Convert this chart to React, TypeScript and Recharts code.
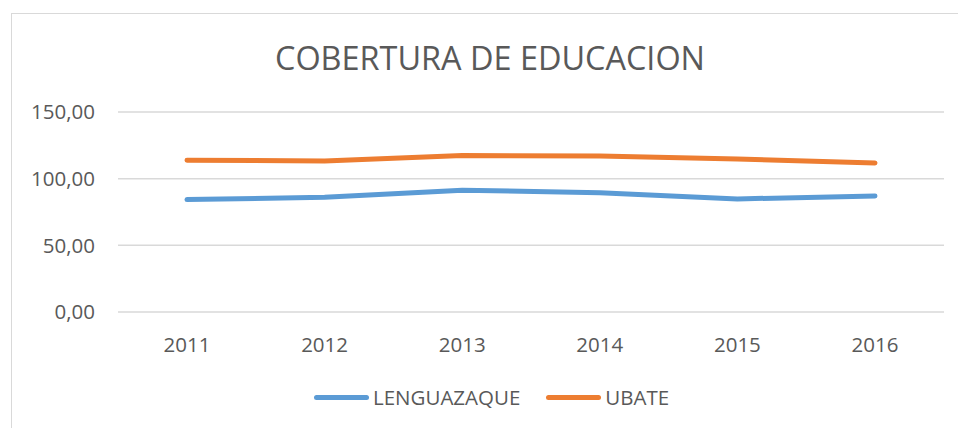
import React from "react";
import { LineChart, Line, XAxis, YAxis, CartesianGrid } from "recharts";

const years = ["2011", "2012", "2013", "2014", "2015", "2016"];
const lenguazaque = [84.3, 86.0, 91.3, 89.5, 84.8, 87.0];
const ubate = [113.8, 113.3, 117.3, 117.0, 114.8, 111.8];
const yTicks = [0, 50, 100, 150];
const title = "COBERTURA DE EDUCACION";
const seriesNames = ["LENGUAZAQUE", "UBATE"];
const seriesColors = ["#5B9BD5", "#ED7D31"];

const data = years.map((y, i) => ({ year: y, LENGUAZAQUE: lenguazaque[i], UBATE: ubate[i] }));

const fmt = (v: number) => v.toFixed(2).replace(".", ",");
const FONT = "'Open Sans', sans-serif";
const TEXT = "#595959";
const FS = 20.5;

export default function App() {
  return (
    <div style={{ position: "absolute", left: 0, top: 0, width: 958, height: 428, overflow: "hidden", background: "#fff", fontFamily: FONT }}>
      <div style={{ position: "absolute", left: 11, top: 13, width: 960, height: 440, border: "1.5px solid #D9D9D9", boxSizing: "border-box" }} />
      <div style={{ position: "absolute", left: 0, top: 0 }}>
        <LineChart width={958} height={428} data={data} margin={{ top: 112, right: 14, left: 0, bottom: 0 }}>
          <text x={490} y={70} textAnchor="middle" fill={TEXT} fontSize={33} fontFamily={FONT} textLength={430} lengthAdjust="spacingAndGlyphs">{title}</text>
          <CartesianGrid vertical={false} stroke="#D9D9D9" strokeWidth={1.5} />
          <XAxis dataKey="year" padding={{ left: 69, right: 69 }} axisLine={false} tickLine={false} tickSize={0} tickMargin={25} height={116} tick={{ fill: TEXT, fontSize: FS, fontFamily: FONT }} />
          <YAxis domain={[0, 150]} ticks={yTicks} tickFormatter={fmt} axisLine={false} tickLine={false} tickSize={0} tickMargin={23} width={118} tick={{ fill: TEXT, fontSize: FS, fontFamily: FONT }} />
          <Line type="linear" dataKey="LENGUAZAQUE" stroke={seriesColors[0]} strokeWidth={5} strokeLinecap="round" dot={false} isAnimationActive={false} />
          <Line type="linear" dataKey="UBATE" stroke={seriesColors[1]} strokeWidth={5} strokeLinecap="round" dot={false} isAnimationActive={false} />
        </LineChart>
      </div>
      <div style={{ position: "absolute", top: 384, left: 314, display: "flex" }}>
        {seriesNames.map((n, i) => (
          <div key={n} style={{ display: "flex", alignItems: "center", marginRight: i === 0 ? 26 : 0 }}>
            <div style={{ width: 55, height: 5, borderRadius: 3, background: seriesColors[i], marginRight: 4 }} />
            <span style={{ fontSize: FS, color: TEXT, lineHeight: "26px" }}>{n}</span>
          </div>
        ))}
      </div>
    </div>
  );
}
